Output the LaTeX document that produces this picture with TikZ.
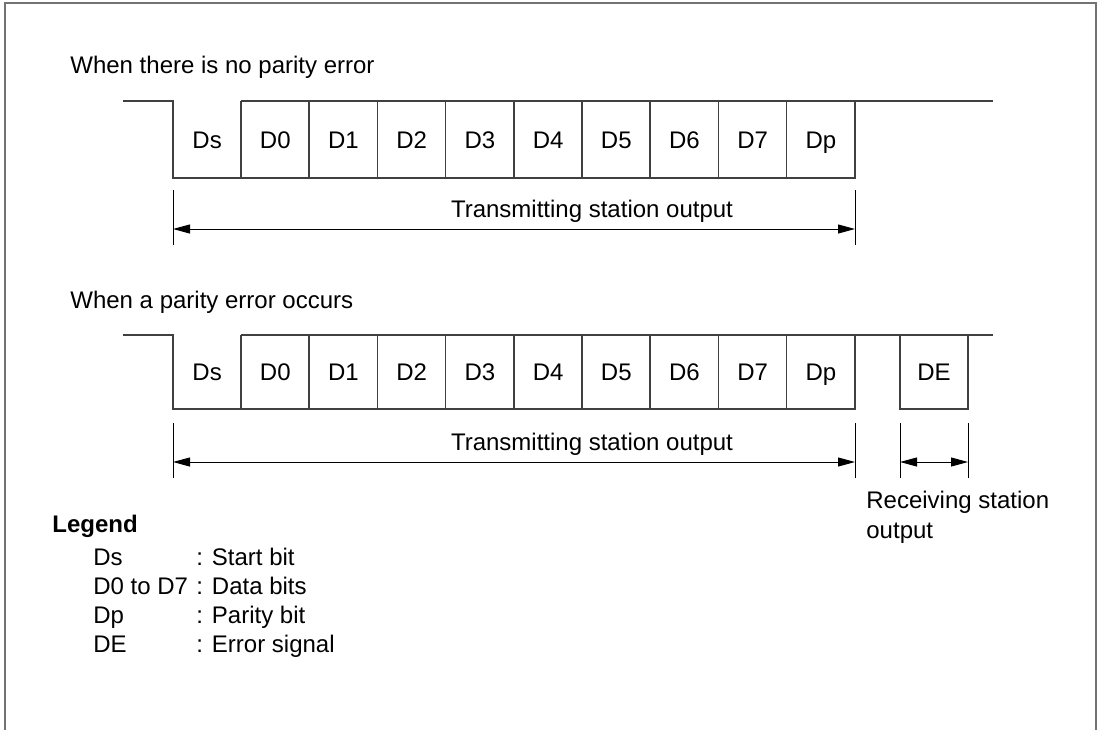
\documentclass[tikz,border=0pt]{standalone}
\usepackage{fontspec}
\setmainfont{Liberation Sans}
\usetikzlibrary{arrows.meta, positioning}

\begin{document}
\begin{tikzpicture}[
    x=0.5pt, y=-0.5pt,
    font=\fontsize{12}{15}\selectfont,
    frame/.style={draw=black!55, line width=0.8pt},
    wave/.style={draw=black!75, line width=0.75pt},
    tick/.style={draw=black, line width=0.5pt},
    dim/.style={{Triangle[length=8.5pt,width=4.5pt]}-{Triangle[length=8.5pt,width=4.5pt]}, line width=0.5pt},
    txt/.style={inner sep=0pt, anchor=base west},
    bit/.style={inner sep=0pt, anchor=base}
]

\useasboundingbox (0,0) rectangle (1100,730);
\draw[frame] (5,730) -- (5,3) -- (1096,3) -- (1096,730);

% no parity error
\node[txt] (title1) at (70,73) {When there is no parity error};
\draw[wave] (123,101) -- (173,101) -- (173,178) -- (855,178) -- (855,101);
\draw[wave] (241,101) -- (993,101);
\foreach \k in {0,...,8}
    \draw[wave] ({241+68.2*\k},101) -- ({241+68.2*\k},178);
\foreach \t [count=\i from 0] in {Ds,D0,D1,D2,D3,D4,D5,D6,D7,Dp}
    \node[bit] (a\t) at ({173+68.2*(\i+0.5)},148) {\t};

\coordinate (a1t) at (173,190); \coordinate (a1b) at (173,245);
\coordinate (a2t) at (855,190); \coordinate (a2b) at (855,245);
\draw[tick] (a1t) -- (a1b);
\draw[tick] (a2t) -- (a2b);
\coordinate (a1m) at (173,229); \coordinate (a2m) at (855,229);
\draw[dim] (a1m) -- (a2m);
\node[bit] (atx) at (592,217) {Transmitting station output};

% parity error
\node[txt] (title2) at (70,308) {When a parity error occurs};
\draw[wave] (123,335) -- (173,335) -- (173,409) -- (855,409) -- (855,335);
\draw[wave] (241,335) -- (993,335);
\foreach \k in {0,...,8}
    \draw[wave] ({241+68.2*\k},335) -- ({241+68.2*\k},409);
\foreach \t [count=\i from 0] in {Ds,D0,D1,D2,D3,D4,D5,D6,D7,Dp}
    \node[bit] (b\t) at ({173+68.2*(\i+0.5)},380) {\t};
\draw[wave] (900,335) -- (900,409) -- (968,409) -- (968,335);
\node[bit] (bDE) at (934,380) {DE};

\coordinate (b1t) at (173,423); \coordinate (b1b) at (173,478);
\coordinate (b2t) at (855,423); \coordinate (b2b) at (855,478);
\coordinate (b3t) at (900,423); \coordinate (b3b) at (900,478);
\coordinate (b4t) at (968,423); \coordinate (b4b) at (968,478);
\foreach \n in {1,...,4}
    \draw[tick] (b\n t) -- (b\n b);
\coordinate (b1m) at (173,462); \coordinate (b2m) at (855,462);
\coordinate (b3m) at (900,462); \coordinate (b4m) at (968,462);
\draw[dim] (b1m) -- (b2m);
\draw[dim] (b3m) -- (b4m);
\node[bit] (btx) at (592,450) {Transmitting station output};
\node[txt] (brx1) at (866,508) {Receiving station};
\node[txt] (brx2) at (866,538) {output};

% legend
\node[txt, font=\fontsize{12}{15}\selectfont\bfseries] (legend) at (52,532) {Legend};
\foreach \s/\d [count=\i from 0] in {Ds/Start bit, D0 to D7/Data bits, Dp/Parity bit, DE/Error signal} {
    \node[txt] (ls\i) at (93,{565+29*\i}) {\s};
    \node[txt] (ld\i) at (196,{565+29*\i}) {: \d};
}

\end{tikzpicture}
\end{document}
